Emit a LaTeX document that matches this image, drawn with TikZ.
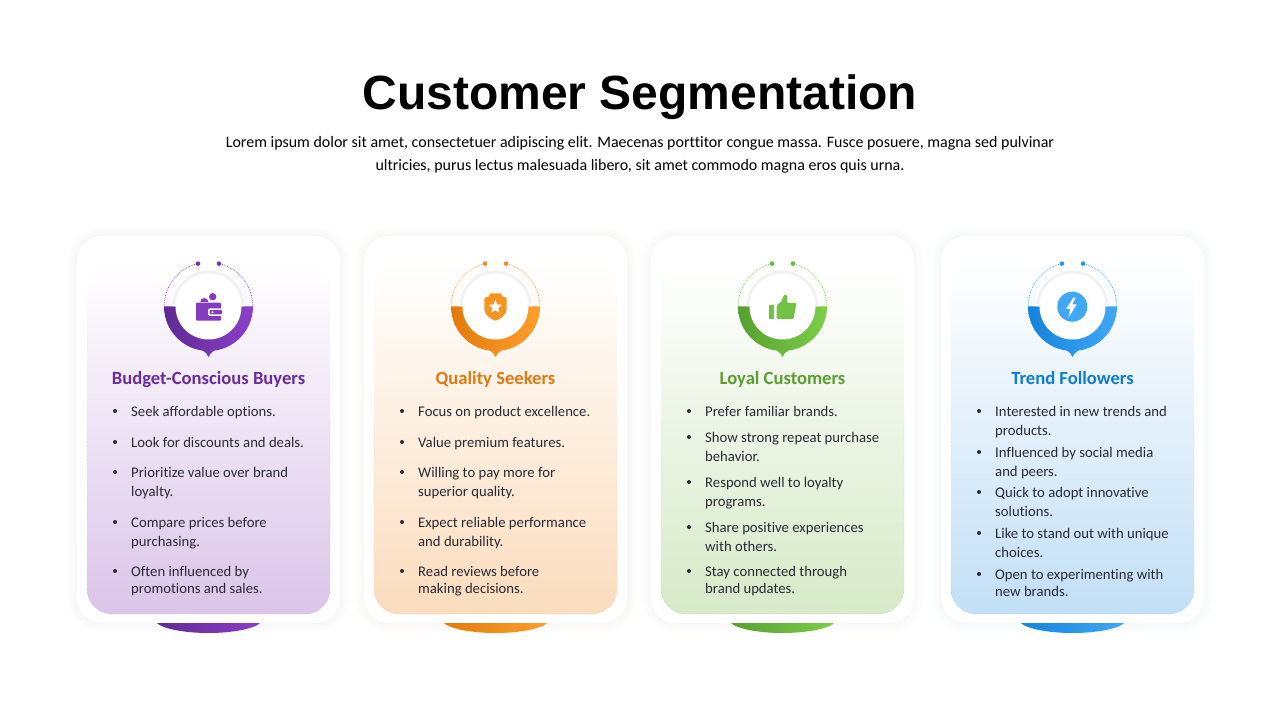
\documentclass[tikz,border=0pt]{standalone}
\usepackage{fontspec}
\usepackage{xcolor}
\setmainfont{Carlito}[Ligatures=NoCommon]
\newfontfamily\titlefont{Liberation Sans}
\usetikzlibrary{positioning, shapes.geometric}

\definecolor{budgetdark}{HTML}{5F2A94}
\definecolor{budgetlight}{HTML}{8C3FCB}
\definecolor{budgethead}{HTML}{6A2C9C}
\definecolor{budgettint}{HTML}{DBC5E9}
\definecolor{qualitydark}{HTML}{E27A0C}
\definecolor{qualitylight}{HTML}{FF9F2B}
\definecolor{qualityhead}{HTML}{E07A10}
\definecolor{qualitytint}{HTML}{FBDCBD}
\definecolor{loyaldark}{HTML}{55A02F}
\definecolor{loyallight}{HTML}{7CCF49}
\definecolor{loyalhead}{HTML}{5A9E30}
\definecolor{loyaltint}{HTML}{D7EAC8}
\definecolor{trenddark}{HTML}{1583DC}
\definecolor{trendlight}{HTML}{40A8F6}
\definecolor{trendhead}{HTML}{0F7BD3}
\definecolor{trendtint}{HTML}{C2DFF6}
\definecolor{bodyink}{HTML}{2A2A35}

\begin{document}
\begin{tikzpicture}[
    x=1pt, y=1pt,
    heading/.style={font=\titlefont\bfseries\fontsize{48}{54}\selectfont, text=black, inner sep=0},
    intro/.style={font=\fontsize{15.97}{23}\selectfont, text=black, align=center, inner sep=0},
    cardhead/.style={font=\bfseries\fontsize{18.6}{22}\selectfont, inner sep=0, anchor=base},
    itemtext/.style={font=\fontsize{14.7}{19}\selectfont, text=bodyink, align=left, anchor=north west, inner sep=0},
    itemdot/.style={circle, fill=bodyink, inner sep=0, minimum size=4pt}
]
\useasboundingbox (0,0) rectangle (1280,720);

\node[heading] (title) at (640,623) {Customer Segmentation};
\node[intro] (intro) at (640,565) {Lorem ipsum dolor sit amet, consectetuer adipiscing elit. Maecenas porttitor congue massa. Fusce posuere, magna sed pulvinar\\ultricies, purus lectus malesuada libero, sit amet commodo magna eros quis urna.};

% card shells and badges
\foreach \seg/\cx/\left in {budget/208.5/77, quality/495.5/364, loyal/782.5/651, trend/1072.5/941} {
    \foreach \grow in {1,...,10}
        \fill[\seg tint!60!black!25, opacity=0.028, rounded corners={25pt+\grow pt}] ({\left-\grow},{97-\grow}) rectangle ({\left+263+\grow},{484+\grow});
    \shade[left color=\seg dark, right color=\seg light] (\cx,101) ellipse [x radius=54pt, y radius=14pt];
    \fill[white, rounded corners=25pt] (\left,97) rectangle ({\left+263},484);
    \shade[top color=white, bottom color=\seg tint, rounded corners=25pt] ({\left+10},106) rectangle ({\left+253},458);
    \draw[\seg dark!45, line width=0.4pt, densely dotted, rounded corners=25pt] ({\left+10},300) -- ({\left+10},106) -- ({\left+253},106) -- ({\left+253},300);
    % badge
    \shade[left color=\seg dark, right color=\seg light] ({\cx-44.5},413.5) arc[start angle=180, end angle=360, radius=44.5pt] -- cycle;
    \fill[\seg dark!45!\seg light] ({\cx-6},369.5) .. controls ({\cx-3},368.5) and ({\cx-1.5},366) .. (\cx,363) .. controls ({\cx+1.5},366) and ({\cx+3},368.5) .. ({\cx+6},369.5) -- cycle;
    \fill[black!5] ({\cx-36},413.5) arc[start angle=180, end angle=0, radius=36pt] -- cycle;
    \fill[white] (\cx,413.5) circle (33pt);
    \draw[\seg light!80!\seg dark, line width=0.7pt, densely dotted] ({\cx+10.5},456.5) arc[start angle=76.3, end angle=0, radius=44.3pt];
    \draw[\seg light!80!\seg dark, line width=0.7pt, densely dotted] ({\cx-10.5},456.5) arc[start angle=103.7, end angle=180, radius=44.3pt];
    \fill[\seg dark!50!\seg light] ({\cx-10.5},456.4) circle (2.3pt);
    \fill[\seg dark!50!\seg light] ({\cx+10.5},456.4) circle (2.3pt);
}

% wallet
\fill[budgetlight!80!budgetdark, rounded corners=1pt] (196,399.3) rectangle (221,417.3);
\fill[white, rounded corners=1.5pt] (208,404) rectangle (222,411.5);
\fill[budgetlight!80!budgetdark, rounded corners=1pt] (209.5,405.5) rectangle (222,410);
\fill[white] (212.5,407.7) circle (1.2pt);
\fill[budgetlight!80!budgetdark] (212.7,423.3) circle (3.7pt);
\fill[budgetlight!80!budgetdark] (200.3,418) arc[start angle=180, end angle=0, radius=4pt] -- cycle;

% shield
\fill[qualitylight!70!qualitydark, shift={(495.5,0)}] (-11.2,422) .. controls (-8,422) and (-6,424) .. (-5,426.7) -- (5,426.7) .. controls (6,424) and (8,422) .. (11.2,422) -- (11.2,411) .. controls (11.2,405) and (5,401) .. (0,399.3) .. controls (-5,401) and (-11.2,405) .. (-11.2,411) -- cycle;
\node[star, star points=5, star point ratio=2.25, fill=white, inner sep=0, minimum size=14pt] (shieldstar) at (495.3,413) {};

% thumb
\fill[loyallight!75!loyaldark] (769,401) rectangle (774,415);
\fill[loyallight!75!loyaldark, rounded corners=1.2pt] (776.7,401) -- (776.7,414) -- (782,419.5) -- (784,425.5) -- (787.5,424.5) -- (787,417) -- (796.5,417) -- (793.5,401) -- cycle;

% bolt
\fill[trendlight] (1072.3,413.3) circle (15pt);
\fill[white] (1073.3,422.3) -- (1066,411) -- (1070,411) -- (1068.7,402.7) -- (1076.7,415.7) -- (1072.3,415.7) -- (1075.7,422.3) -- cycle;

% card headings
\node[cardhead, text=budgethead] (budgetname) at (208.5,335.5) {Budget-Conscious Buyers};
\node[cardhead, text=qualityhead] (qualityname) at (495.5,335.5) {Quality Seekers};
\node[cardhead, text=loyalhead] (loyalname) at (782.5,335.5) {Loyal Customers};
\node[cardhead, text=trendhead] (trendname) at (1072.5,335.5) {Trend Followers};

% card lists
\foreach \i/\py/\txt in {1/411/{Seek affordable options.}, 2/442/{Look for discounts and deals.}, 3/472/{Prioritize value over brand\\loyalty.}, 4/522/{Compare prices before\\purchasing.}, 5/571/{Often influenced by\\[-2pt]promotions and sales.}} {
    \node[itemdot] (budgetdot\i) at (115,{720-\py}) {};
    \node[itemtext] (budgetitem\i) at (131,{720-\py+4.7}) {\txt};
}
\foreach \i/\py/\txt in {1/411/{Focus on product excellence.}, 2/442/{Value premium features.}, 3/472/{Willing to pay more for\\superior quality.}, 4/522/{Expect reliable performance\\and durability.}, 5/571/{Read reviews before\\[-2pt]making decisions.}} {
    \node[itemdot] (qualitydot\i) at (402,{720-\py}) {};
    \node[itemtext] (qualityitem\i) at (418,{720-\py+4.7}) {\txt};
}
\foreach \i/\py/\txt in {1/411/{Prefer familiar brands.}, 2/437/{Show strong repeat purchase\\behavior.}, 3/482/{Respond well to loyalty\\programs.}, 4/527/{Share positive experiences\\with others.}, 5/571/{Stay connected through\\[-2pt]brand updates.}} {
    \node[itemdot] (loyaldot\i) at (689,{720-\py}) {};
    \node[itemtext] (loyalitem\i) at (705,{720-\py+4.7}) {\txt};
}
\foreach \i/\py/\txt in {1/411/{Interested in new trends and\\products.}, 2/452/{Influenced by social media\\and peers.}, 3/492/{Quick to adopt innovative\\solutions.}, 4/533/{Like to stand out with unique\\choices.}, 5/574/{Open to experimenting with\\[-2pt]new brands.}} {
    \node[itemdot] (trenddot\i) at (979,{720-\py}) {};
    \node[itemtext] (trenditem\i) at (995,{720-\py+4.7}) {\txt};
}

\end{tikzpicture}
\end{document}
